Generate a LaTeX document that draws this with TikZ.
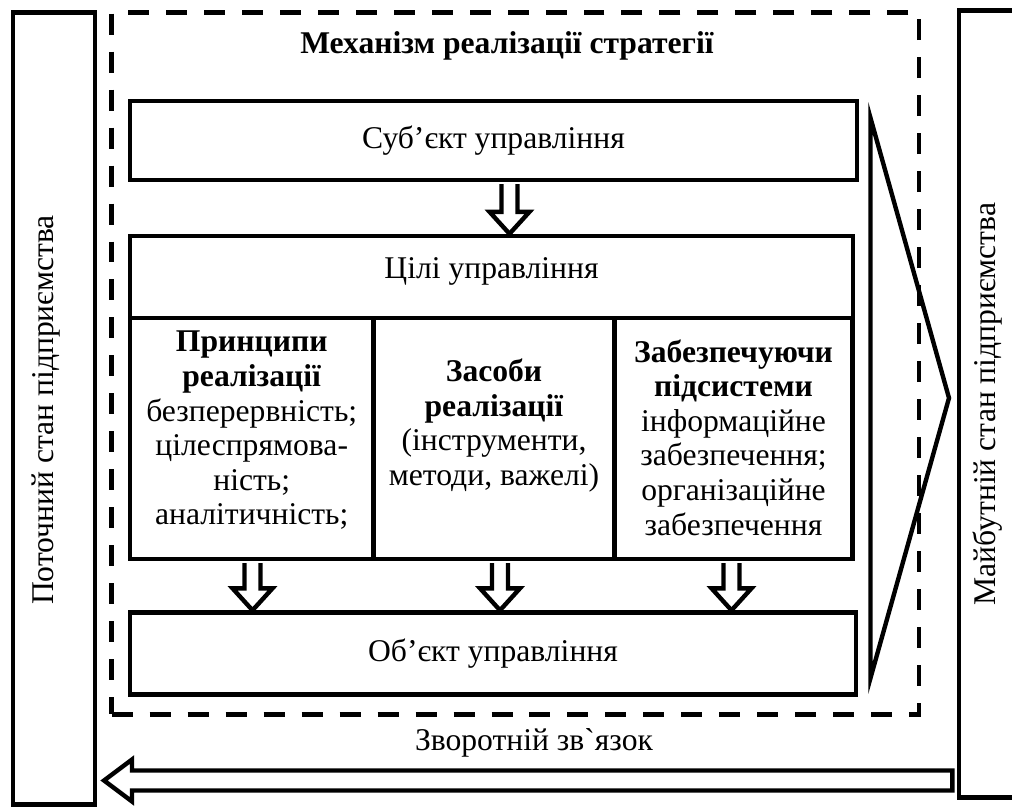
\documentclass[tikz,border=0pt]{standalone}
\usepackage{fontspec}
\setmainfont{Liberation Serif}
\usetikzlibrary{calc,positioning}
\tikzset{
  txt/.style={font=\fontsize{18}{19.7}\selectfont, align=center},
  box/.style={txt, draw, line width=2.5pt, inner sep=0pt},
  outline/.style={draw, line width=2.5pt},
  frame/.style={draw, line width=2.6pt, dash pattern=on 0.42cm off 0.34cm, inner sep=0pt},
  hollow/.style={draw, line width=2.5pt, fill=white, line join=miter}
}
\newcommand{\hollowdown}[3]{%
  \path (#1.south -| #3,0) coordinate (ha-top) (#2.north -| #3,0) coordinate (ha-tip);
  \draw[hollow] ($(ha-top)+(-8,2)$) -- ($(ha-tip)+(-8,-22)$) -- ($(ha-tip)+(-20,-22)$) -- (ha-tip)
    -- ($(ha-tip)+(20,-22)$) -- ($(ha-tip)+(8,-22)$) -- ($(ha-top)+(8,2)$);
}

\begin{document}
\begin{tikzpicture}[x=0.02cm, y=-0.02cm]
\useasboundingbox (0,0) rectangle (1012,807);

\node[box, minimum width=1.634cm, minimum height=15.84cm] (current) at (54,408.5) {};
\node[box, minimum width=2.12cm, minimum height=15.74cm] (future) at (1012,404) {};
\node[txt, rotate=90] (current-label) at (46,410) {Поточний стан підприємства};
\node[txt, rotate=90] (future-label) at (988,404) {Майбутній стан підприємства};

\node[frame, minimum width=16.15cm, minimum height=14.04cm] (mech) at (515.25,363.5) {};
\node[txt] (mech-title) at (507,46) {\textbf{Механізм реалізації стратегії}};

\node[box, minimum width=14.54cm, minimum height=1.58cm] (subj) at (493.5,140.5) {Суб’єкт управління};
\node[box, minimum width=14.46cm, minimum height=1.64cm] (goals) at (491.5,277) {};
\node[txt] (goals-text) at ($(goals.center)+(0,-6)$) {Цілі управління};
\node[box, minimum width=4.87cm, minimum height=4.82cm] (colA) at (251.75,438.5) {};
\node[box, minimum width=4.82cm, minimum height=4.82cm] (colB) at (494,438.5) {};
\node[box, minimum width=4.76cm, minimum height=4.82cm] (colC) at (733.5,438.5) {};
\node[txt] (colA-text) at ($(colA.center)+(0,-8)$)
  {\textbf{Принципи}\\ \textbf{реалізації}\\ безперервність;\\ цілеспрямова-\\ ність;\\ аналітичність;};
\node[txt] (colB-text) at ($(colB.center)+(0,-13)$)
  {\textbf{Засоби}\\ \textbf{реалізації}\\ (інструменти,\\ методи, важелі)};
\node[txt] (colC-text) at ($(colC.center)+(0,-1)$)
  {\textbf{Забезпечуючи}\\ \textbf{підсистеми}\\ інформаційне\\ забезпечення;\\ організаційне\\ забезпечення};
\node[box, minimum width=14.52cm, minimum height=1.64cm] (obj) at (493,653.5) {Об’єкт управління};

\hollowdown{subj}{goals}{509.5}
\hollowdown{colA}{obj}{252.5}
\hollowdown{colB}{obj}{500}
\hollowdown{colC}{obj}{731.5}

\draw[outline] (870.5,118) -- (949,398) -- (870.5,678) -- cycle;

\node[txt] (fb-label) at (534,743) {Зворотній зв\textasciigrave{}язок};
\coordinate (fb-start) at ($(future.west |- 0,780.5)+(-4.5,0)$);
\coordinate (fb-tip) at ($(current.east |- 0,780.5)+(7,0)$);
\draw[hollow] ($(fb-start)+(0,-10)$) -- ($(fb-tip)+(28,-10)$) -- ($(fb-tip)+(28,-21)$) -- (fb-tip)
  -- ($(fb-tip)+(28,21)$) -- ($(fb-tip)+(28,10)$) -- ($(fb-start)+(0,10)$) -- cycle;
\end{tikzpicture}
\end{document}
